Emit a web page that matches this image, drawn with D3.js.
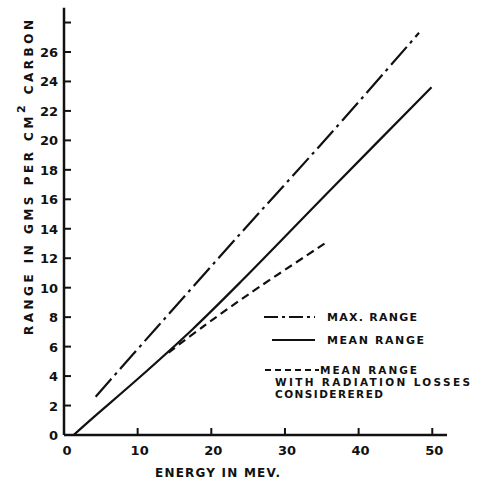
<!DOCTYPE html>
<html>
<head>
<meta charset="utf-8">
<script src="https://cdn.jsdelivr.net/npm/d3@7"></script>
<style>
  body { margin: 0; background: #fff; }
  svg text { font-family: "DejaVu Sans", sans-serif; font-weight: bold; fill: #111; }
</style>
</head>
<body>
<div id="chart"></div>
<script>
// values (energy in MeV, range in g/cm2 carbon)
var maxRange = [[4.3, 2.6], [12.6, 7.3], [24, 13.7], [36.1, 20.4], [48.2, 27.3]];
var meanRange = [[1.3, 0], [4, 1.2], [10, 3.8], [17.5, 7.2], [24.2, 10.5], [36.1, 16.6], [49.9, 23.6]];
var radLoss = [[14.2, 5.6], [19, 7.4], [25.2, 9.6], [35.4, 13.0]];

var xTicks = [0, 10, 20, 30, 40, 50];
var yTicks = [0, 2, 4, 6, 8, 10, 12, 14, 16, 18, 20, 22, 24, 26, 28];

var width = 481, height = 483;

var svg = d3.select("#chart").append("svg")
    .attr("width", width)
    .attr("height", height);

var x = d3.scaleLinear().domain([0, 52]).range([64, 447]);
var y = d3.scaleLinear().domain([0, 29]).range([435, 7.8]);

// axes drawn by hand to get the inward ticks
svg.append("line")
    .attr("x1", x(0)).attr("x2", x(0))
    .attr("y1", y(0)).attr("y2", y(29))
    .attr("stroke", "#111").attr("stroke-width", 2.5);
svg.append("line")
    .attr("x1", x(0)).attr("x2", x(52))
    .attr("y1", y(0)).attr("y2", y(0))
    .attr("stroke", "#111").attr("stroke-width", 2.5);

svg.selectAll(".ytick")
    .data(yTicks.filter(function(d) { return d > 0; }))
    .enter().append("line")
    .attr("x1", x(0)).attr("x2", x(0) + 7)
    .attr("y1", function(d) { return y(d); })
    .attr("y2", function(d) { return y(d); })
    .attr("stroke", "#111").attr("stroke-width", 2);

svg.selectAll(".ylab")
    .data(yTicks.filter(function(d) { return d < 28; }))
    .enter().append("text")
    .attr("x", 58)
    .attr("y", function(d) { return y(d) + 5; })
    .attr("text-anchor", "end")
    .style("font-size", "13px")
    .text(function(d) { return d; });

svg.selectAll(".xtick")
    .data(xTicks.filter(function(d) { return d > 0; }))
    .enter().append("line")
    .attr("x1", function(d) { return x(d); })
    .attr("x2", function(d) { return x(d); })
    .attr("y1", y(0)).attr("y2", y(0) - 7)
    .attr("stroke", "#111").attr("stroke-width", 2);

svg.selectAll(".xlab")
    .data(xTicks)
    .enter().append("text")
    .attr("x", function(d) { return d === 0 ? x(d) + 3 : x(d) + 2; })
    .attr("y", 455)
    .attr("text-anchor", "middle")
    .style("font-size", "13px")
    .text(function(d) { return d; });

// axis titles
svg.append("text")
    .attr("x", 155).attr("y", 477)
    .attr("textLength", 125).attr("lengthAdjust", "spacing")
    .style("font-size", "12px")
    .text("ENERGY IN MEV.");

var ylab = svg.append("text")
    .attr("transform", "translate(33,335) rotate(-90)")
    .attr("x", 0).attr("y", 0)
    .attr("textLength", 315).attr("lengthAdjust", "spacing")
    .style("font-size", "12px");
ylab.append("tspan").text("RANGE IN GMS PER CM");
ylab.append("tspan").attr("dy", -8).style("font-size", "11px").text("2");
ylab.append("tspan").attr("dy", 8).text(" CARBON");

// curves
var line = d3.line()
    .x(function(d) { return x(d[0]); })
    .y(function(d) { return y(d[1]); })
    .curve(d3.curveCatmullRom.alpha(0.5));

svg.append("path").datum(maxRange)
    .attr("d", line)
    .attr("fill", "none").attr("stroke", "#111").attr("stroke-width", 2.2)
    .attr("stroke-dasharray", "24,5,3,5");

svg.append("path").datum(meanRange)
    .attr("d", line)
    .attr("fill", "none").attr("stroke", "#111").attr("stroke-width", 2.2);

svg.append("path").datum(radLoss)
    .attr("d", line)
    .attr("fill", "none").attr("stroke", "#111").attr("stroke-width", 2.2)
    .attr("stroke-dasharray", "8,5");

// legend
var leg = svg.append("g");
leg.append("line").attr("x1", 264).attr("x2", 315).attr("y1", 317).attr("y2", 317)
    .attr("stroke", "#111").attr("stroke-width", 2.2).attr("stroke-dasharray", "14,4,3,4");
leg.append("text").attr("x", 327).attr("y", 321)
    .attr("textLength", 90).attr("lengthAdjust", "spacing")
    .style("font-size", "11px").text("MAX. RANGE");

leg.append("line").attr("x1", 272).attr("x2", 315).attr("y1", 340).attr("y2", 340)
    .attr("stroke", "#111").attr("stroke-width", 2.2);
leg.append("text").attr("x", 327).attr("y", 344)
    .attr("textLength", 97).attr("lengthAdjust", "spacing")
    .style("font-size", "11px").text("MEAN RANGE");

leg.append("line").attr("x1", 265).attr("x2", 319).attr("y1", 370).attr("y2", 370)
    .attr("stroke", "#111").attr("stroke-width", 2.2).attr("stroke-dasharray", "6,4");
leg.append("text").attr("x", 320).attr("y", 374)
    .attr("textLength", 97).attr("lengthAdjust", "spacing")
    .style("font-size", "10.5px").text("MEAN RANGE");
leg.append("text").attr("x", 275).attr("y", 386)
    .attr("textLength", 195).attr("lengthAdjust", "spacing")
    .style("font-size", "10.5px").text("WITH RADIATION LOSSES");
leg.append("text").attr("x", 275).attr("y", 398)
    .attr("textLength", 108).attr("lengthAdjust", "spacing")
    .style("font-size", "10.5px").text("CONSIDERERED");
</script>
</body>
</html>
